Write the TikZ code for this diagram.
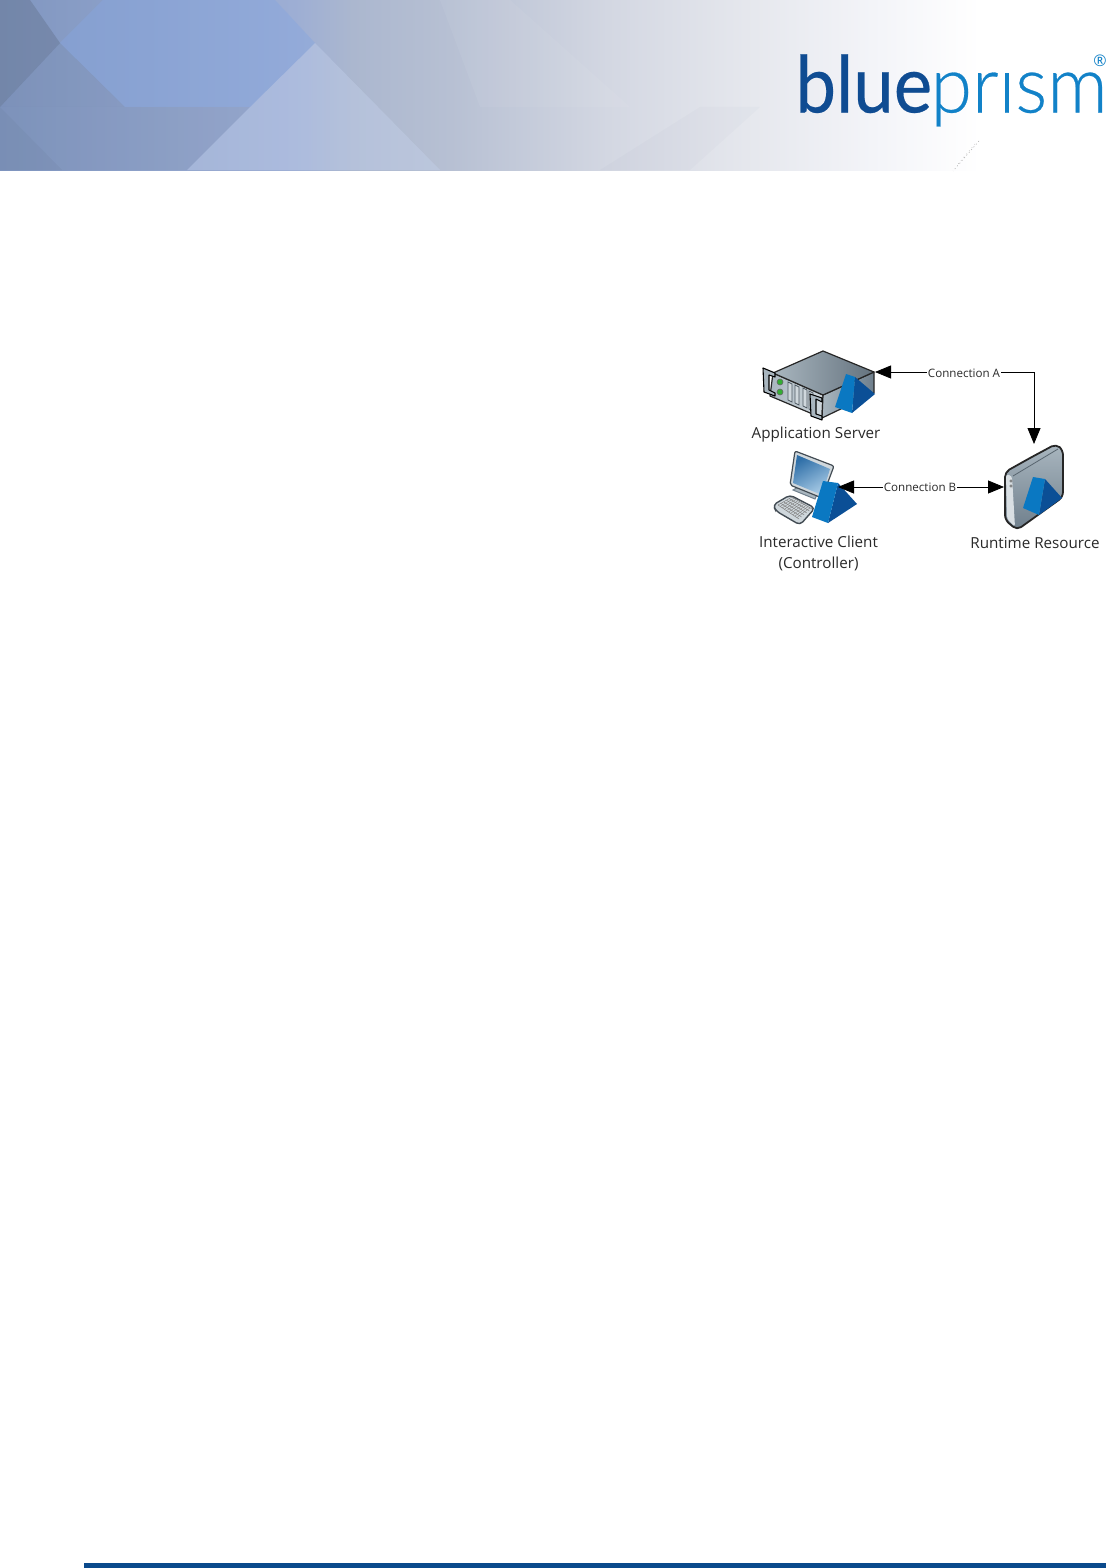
\documentclass[tikz,border=0pt]{standalone}
\usepackage{fontspec}
\setmainfont{Open Sans}
\newfontfamily\logofont{Lato}[FakeBold=0.35]
\newfontfamily\logolight{Lato Light}[FakeBold=0.35]
\usetikzlibrary{arrows.meta,calc}
\definecolor{prismL}{HTML}{0A78C2}
\definecolor{prismD}{HTML}{0B4F96}
\definecolor{footbar}{HTML}{0A4A8C}
\definecolor{logoD}{HTML}{0F4C92}
\definecolor{logoL}{HTML}{1282C8}
\definecolor{txt}{HTML}{2A2A2A}
\definecolor{ba}{HTML}{8096C0}
\definecolor{bb}{HTML}{9DAED4}
\definecolor{bb2}{HTML}{ABB7CF}
\definecolor{bc}{HTML}{B7C0D3}
\definecolor{bd}{HTML}{D3D7E2}
\definecolor{be}{HTML}{E5E7ED}
\definecolor{bf}{HTML}{F4F5F9}
\definecolor{metalA}{HTML}{6F7F8C}
\definecolor{metalB}{HTML}{A9B6BF}
\definecolor{metalC}{HTML}{CFD7DC}
\definecolor{screenA}{HTML}{2F6FA8}
\definecolor{screenB}{HTML}{A8CBE6}
\definecolor{hexblue}{HTML}{86A6E0}
\definecolor{slate}{HTML}{64748F}
\definecolor{diamond}{HTML}{C8D5F0}
\pgfdeclarehorizontalshading{bannerbase}{100bp}{
 color(0bp)=(ba);color(25bp)=(ba);
 color(40bp)=(bb);color(43bp)=(bb2);color(48bp)=(bc);
 color(56bp)=(bd);color(63bp)=(be);
 color(70bp)=(bf);color(75bp)=(white);color(100bp)=(white)}
\tikzset{
 x=0.5pt,y=-0.5pt,
 conn/.style={draw=black,line width=0.4pt},
 bighead/.style={-{Triangle[length=8pt,width=6.5pt]}},
 bothheads/.style={{Triangle[length=8pt,width=6.5pt]}-{Triangle[length=8pt,width=6.5pt]}},
 clabel/.style={fill=white,inner sep=0.4pt,font=\fontsize{5.8}{6}\selectfont,text=txt},
 iconlabel/.style={inner sep=0pt,align=center,font=\fontsize{7.6}{10.6}\selectfont,text=txt},
 outl/.style={draw=black!85,line width=0.6pt,line join=round},
 prismleft/.style={fill=prismL},
 prismright/.style={fill=prismD},
 ear/.style={fill=metalB,draw=black,line width=0.55pt,line join=round},
}
\begin{document}
\begin{tikzpicture}
\useasboundingbox (0,0) rectangle (1106,1568);
\fill[white] (0,0) rectangle (1106,1568);
% banner
\shade[shading=bannerbase] (0,0) rectangle (980,170);
\fill[slate,opacity=.10] (0,107) -- (250,107) -- (187,170) -- (0,170) -- cycle;
\fill[diamond,opacity=.35] (315,43) -- (250,107) -- (187,170) -- (440,170) -- cycle;
\fill[white,opacity=.05] (440,0) -- (510,0) -- (630,107) -- (480,107) -- cycle;
\fill[slate,opacity=.03] (700,107) -- (760,107) -- (690,170) -- (600,170) -- cycle;
\fill[hexblue,opacity=.45] (60,43) -- (103,0) -- (275,0) -- (315,43) -- (250,107) -- (125,107) -- cycle;
\fill[slate,opacity=.45] (0,0) -- (30,0) -- (60,43) -- (0,107) -- cycle;
\fill[slate,opacity=.12] (0,107) -- (60,43) -- (125,107) -- cycle;
\fill[slate,opacity=.12] (0,107) -- (62,170) -- (0,170) -- cycle;
% speckle
\draw[black!35,line width=0.25pt,dash pattern=on 0.5pt off 1.3pt] (979,141) -- (953,171);
\draw[black!25,line width=0.25pt,dash pattern=on 0.4pt off 1.7pt] (975,144) -- (958,164);
% logo
\node[inner sep=0pt,anchor=base west,text=logoD] (logoblue) at (795,112.5) {\scalebox{.92}[1]{\logofont\fontsize{39.5}{40}\selectfont blue}};
\node[inner sep=0pt,anchor=base east,text=logoL] (logoprism) at (1108,112.5) {\scalebox{.95}[1]{\logolight\fontsize{39.5}{40}\selectfont prısm}};
\node[inner sep=0pt,text=logoL] (reg) at (1100,61) {\fontsize{8}{8}\selectfont ®};
% footer
\fill[footbar] (84,1563) rectangle (1106,1568);

% ---- application server icon
\begin{scope}
\path[outl,left color=metalB,right color=metalC] (773,373) -- (823,395) -- (822,418) -- (770,396) -- cycle;
\path[outl,left color=metalB,right color=metalA] (823,395) -- (874,372) -- (874,393) -- (822,418) -- cycle;
\path[outl,left color=metalB,right color=metalA!90!black] (773,373) -- (823,351) -- (874,372) -- (823,395) -- cycle;
\foreach \x/\y in {788/382,795/385,803/388,809/391}
  \path[fill=metalC,draw=metalA!70!black,line width=0.4pt] (\x,\y) -- (\x+4,\y+2) -- (\x+4,\y+20) -- (\x,\y+18) -- cycle;
\foreach \y in {382,392}
  \path[fill=green!60!black!80!white,draw=black!60,line width=0.3pt] (780,\y) circle[radius=3];
\path[ear] (763,368) -- (775,373) -- (775,377) -- (769,375) -- (769,390) -- (775,393) -- (775,396) -- (764,392) -- cycle;
\path[ear] (810,394) -- (822,398) -- (822,402) -- (816,399) -- (816,414) -- (822,416) -- (822,420) -- (811,416) -- cycle;
\path[prismright] (855,377) -- (875,394) -- (852,413) -- cycle;
\path[prismleft] (846,374) -- (835,407) -- (852,413) -- (855,377) -- cycle;
\end{scope}
\coordinate (srv) at (875,372);

% ---- client icon
\begin{scope}
\path[fill=metalB,draw=metalA,line width=0.5pt] (793,490) -- (800,486) -- (818,492) -- (815,499) -- cycle;
\path[outl,fill=metalC,draw=metalA!60!black,rounded corners=1pt] (795,451) -- (790,485) -- (822,498) -- (834,466) -- cycle;
\path[left color=screenA,right color=screenB,shading angle=30] (797,455) -- (793,483) -- (822,495) -- (830,469) -- cycle;
\path[fill=metalC,draw=metalA!60!black,line width=0.7pt,rounded corners=2pt] (773,505) -- (790,495) -- (815,508) -- (800,525) -- (776,511) -- cycle;
\foreach \t in {0,0.2,0.4,0.6,0.8,1}
  \draw[black!50,line width=0.25pt] ($(778,505)!\t!(792,497)$) -- ($(799,519)!\t!(812,509)$);
\foreach \t in {0,0.1,...,1}
  \draw[black!50,line width=0.2pt] ($(778,505)!\t!(799,519)$) -- ($(792,497)!\t!(812,509)$);
\path[prismright] (838,483) -- (857,504) -- (828,523) -- cycle;
\path[prismleft] (823,481) -- (812,517) -- (828,523) -- (838,483) -- cycle;
\end{scope}
\coordinate (cli) at (838,487);

% ---- runtime resource icon
\begin{scope}
\path[draw=black!85,line width=0.9pt,line join=round,top color=metalB,bottom color=metalA,rounded corners=2.5pt] (1030,458) -- (1056,444) -- (1063,450) -- (1063,497) -- (1017,530) -- (1005,520) -- (1005,472) -- cycle;
\path[rounded corners=1.5pt,fill=metalC!80!white] (1006,474) -- (1012,476) -- (1015,527) -- (1007,519) -- cycle;
\path[draw=metalA!80!black,line width=0.4pt] (1013,476) -- (1058,449);
\foreach \y in {481,486}
  \path[draw=black!60,line width=0.3pt] (1011,\y) circle[radius=1.2];
\path[prismright] (1045,479) -- (1062,498) -- (1039,515) -- cycle;
\path[prismleft] (1033,477) -- (1023,508) -- (1039,515) -- (1045,479) -- cycle;
\end{scope}
\coordinate (rtTop) at (1034,444);
\coordinate (rtLeft) at (1004,487);

% ---- connectors
\draw[conn,bighead] (srv -| rtTop) -- (rtTop);
\draw[conn,bighead] (srv -| rtTop) -- (srv);
\draw[conn,bothheads] (cli) -- (rtLeft);
\node[clabel] (la) at (964,373) {Connection A};
\node[clabel] (lb) at (920,487) {Connection B};

% ---- labels
\node[iconlabel] (appserver) at (816,435) {Application Server};
\node[iconlabel] (client) at (818.5,553.5) {Interactive Client\\(Controller)};
\node[iconlabel] (runtime) at (1035,543) {Runtime Resource};
\end{tikzpicture}
\end{document}
